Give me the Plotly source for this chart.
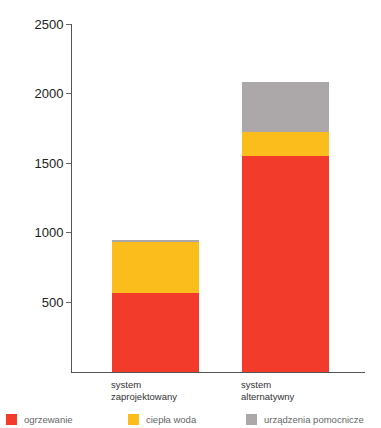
import plotly.graph_objects as go

# Energy demand per system, stacked by use
systems = ["system<br>zaprojektowany", "system<br>alternatywny"]
series_names = ["ogrzewanie", "ciepła woda", "urządzenia pomocnicze"]
ogrzewanie = [565, 1555]
ciepla_woda = [375, 168]
urzadzenia = [7, 357]
colors = ["#f33b2b", "#fbbd1c", "#aca7a9"]
y_ticks = [500, 1000, 1500, 2000, 2500]

bar_width = 0.67
xs = list(range(len(systems)))

fig = go.Figure()
for name, vals, col in zip(series_names, [ogrzewanie, ciepla_woda, urzadzenia], colors):
    fig.add_trace(go.Bar(
        x=xs, y=vals, name=name, width=bar_width,
        marker=dict(color=col, line=dict(width=0)),
        showlegend=False,
    ))

# category labels, left-aligned to the bar edges
for i, lab in enumerate(systems):
    fig.add_annotation(
        x=i - bar_width / 2, y=0, xref="x", yref="y",
        text=lab, showarrow=False, xanchor="left", yanchor="top",
        align="left", xshift=-3, yshift=-5,
        font=dict(family="Liberation Sans, Arial", size=9.5, color="#333"),
    )

# legend row along the bottom edge
legend_x = [6, 128, 246]
for px, name, col in zip(legend_x, series_names, colors):
    fig.add_shape(
        type="rect", xref="paper", yref="paper",
        x0=(px - 72) / 293, x1=(px + 11 - 72) / 293,
        y0=(372 - 425) / 348, y1=(372 - 414) / 348,
        fillcolor=col, line=dict(width=0),
    )
    fig.add_annotation(
        x=(px + 16 - 72) / 293, y=(372 - 419.5) / 348, xref="paper", yref="paper",
        text=name, showarrow=False, xanchor="left", yanchor="middle",
        font=dict(family="Liberation Sans, Arial", size=9.5, color="#666"),
    )

fig.update_layout(
    barmode="stack",
    width=381, height=428,
    margin=dict(l=72, r=16, t=24, b=56),
    paper_bgcolor="white", plot_bgcolor="white",
    bargap=0,
    xaxis=dict(
        range=[-0.64, 1.61], showticklabels=False, ticks="",
        showgrid=False, zeroline=False,
        showline=True, linecolor="#555", linewidth=1,
    ),
    yaxis=dict(
        range=[0, 2500], tickvals=y_ticks,
        ticks="outside", ticklen=5, tickcolor="#666",
        showgrid=False, zeroline=False,
        showline=True, linecolor="#555", linewidth=1,
        tickfont=dict(family="Liberation Sans, Arial", size=13, color="#222"),
    ),
)

fig.write_html("out.html")
